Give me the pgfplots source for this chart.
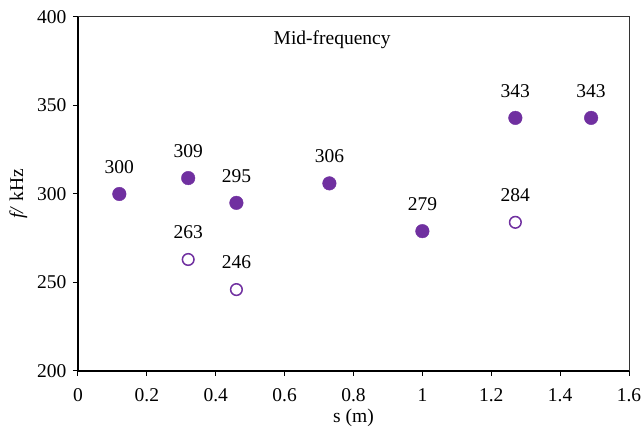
\documentclass[border=0pt]{standalone}
\usepackage{fontspec}
\setmainfont{Liberation Serif}
\usepackage{pgfplots}
\pgfplotsset{compat=1.18}
\definecolor{mypurple}{HTML}{7030A0}
\begin{document}
\begin{tikzpicture}
\begin{axis}[
  name=ax,
  scale only axis,
  width=551pt, height=354pt,
  xmin=0, xmax=1.6, ymin=200, ymax=400,
  xtick={0,0.2,0.4,0.6,0.8,1,1.2,1.4,1.6},
  ytick={200,250,300,350,400},
  axis x line*=bottom, axis y line*=left,
  axis line style={line width=1.3pt, black, -},
  tick align=outside,
  major tick length=5pt,
  tick style={line width=1pt, black},
  /pgf/number format/assume math mode=true,
  tick label style={font=\fontsize{19.5}{21}\selectfont},
  yticklabel style={xshift=-3pt},
  xticklabel style={yshift=-9pt},
  xlabel={s (m)},
  ylabel={\textit{f/} kHz},
  xlabel style={font=\fontsize{19.5}{21}\selectfont, yshift=0pt},
  ylabel style={font=\fontsize{19.5}{21}\selectfont, yshift=3pt},
  clip=false,
  point meta=y,
  nodes near coords={\pgfmathprintnumber{\pgfplotspointmeta}},
  every node near coord/.append style={font=\fontsize{19.5}{21}\selectfont, anchor=center, yshift=27pt, text=black},
]
\addplot[only marks, mark=*, mark size=6.8pt, mark options={fill=mypurple, draw=mypurple}] coordinates {
(0.12,300) (0.32,309) (0.46,295) (0.73,306) (1.0,279) (1.27,343) (1.49,343)
};
\addplot[only marks, mark=o, mark size=5.8pt, mark options={draw=mypurple, fill=white, line width=1.5pt}] coordinates {
(0.32,263) (0.46,246) (1.27,284)
};
\node[font=\fontsize{19.5}{21}\selectfont] at (axis cs:0.738,387) {Mid-frequency};
\end{axis}
\draw[line width=1pt, black!80] (ax.north west) -- (ax.north east) -- (ax.south east);
\pgfresetboundingbox
\path ([shift={(-78pt,-56pt)}]ax.south west) rectangle ([shift={(13pt,17pt)}]ax.north east);
\end{tikzpicture}
\end{document}
